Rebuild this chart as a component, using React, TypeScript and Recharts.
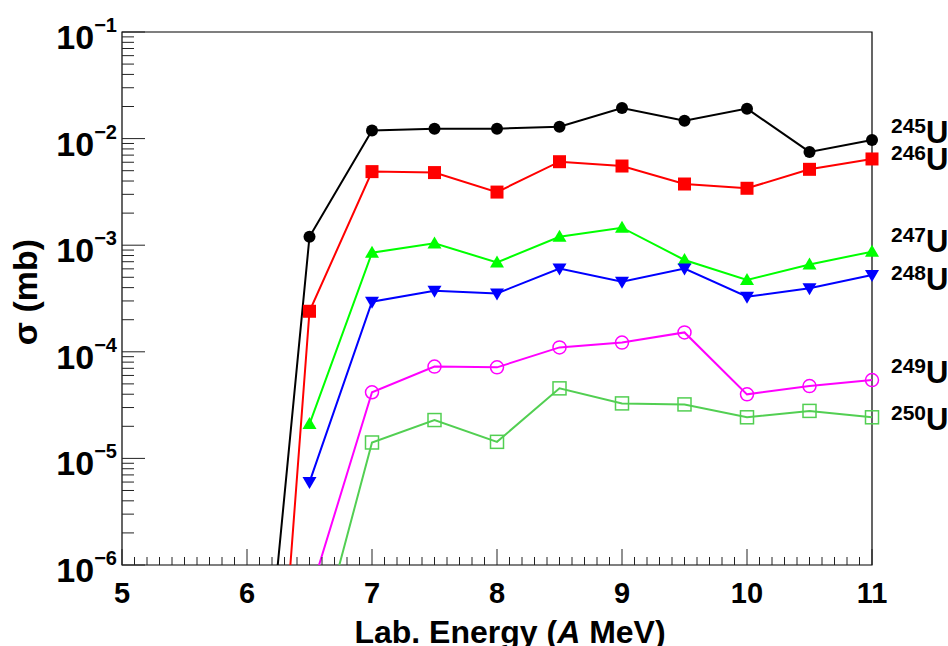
import React from "react";
import { LineChart, Line, XAxis, YAxis, ReferenceArea, Customized } from "recharts";

const energies = [6, 6.5, 7, 7.5, 8, 8.5, 9, 9.5, 10, 10.5, 11];
const u245 = [1.05e-9, 1.2e-3, 1.19e-2, 1.24e-2, 1.24e-2, 1.29e-2, 1.94e-2, 1.47e-2, 1.91e-2, 7.5e-3, 9.7e-3];
const u246 = [4e-12, 2.4e-4, 4.9e-3, 4.8e-3, 3.15e-3, 6.07e-3, 5.53e-3, 3.75e-3, 3.42e-3, 5.15e-3, 6.44e-3];
const u247 = [null, 2.1e-5, 8.5e-4, 1.04e-3, 6.9e-4, 1.2e-3, 1.46e-3, 7.27e-4, 4.72e-4, 6.6e-4, 8.7e-4];
const u248 = [null, 6.0e-6, 2.95e-4, 3.74e-4, 3.53e-4, 6.05e-4, 4.55e-4, 6.05e-4, 3.29e-4, 3.94e-4, 5.25e-4];
const u249 = [null, 5.1e-7, 4.17e-5, 7.26e-5, 7.15e-5, 1.1e-4, 1.22e-4, 1.52e-4, 3.99e-5, 4.77e-5, 5.43e-5];
const u250 = [null, 8.9e-8, 1.41e-5, 2.29e-5, 1.43e-5, 4.54e-5, 3.28e-5, 3.21e-5, 2.43e-5, 2.79e-5, 2.43e-5];

const yDecades = [1e-6, 1e-5, 1e-4, 1e-3, 1e-2, 1e-1];
const yExponents = ["−6", "−5", "−4", "−3", "−2", "−1"];

const seriesDefs = [
  { key: "u245", name: "245", values: u245, color: "#000000", shape: "circle" },
  { key: "u246", name: "246", values: u246, color: "#ff0000", shape: "square" },
  { key: "u247", name: "247", values: u247, color: "#00ff00", shape: "triUp" },
  { key: "u248", name: "248", values: u248, color: "#0000ff", shape: "triDown" },
  { key: "u249", name: "249", values: u249, color: "#ff00ff", shape: "openCircle" },
  { key: "u250", name: "250", values: u250, color: "#52cf52", shape: "openSquare" },
];

const YMIN = 1e-6;
const YMAX = 1e-1;

const data = energies.map((e, i) => {
  const row: any = { e };
  seriesDefs.forEach((s) => {
    const v = s.values[i];
    row[s.key] = v;
    row[s.key + "_m"] = v !== null && v >= YMIN ? v : null;
  });
  return row;
});

// tick positions (major + minor)
const xTicks: number[] = [];
for (let i = 0; i <= 60; i++) xTicks.push(Math.round((5 + i * 0.1) * 10) / 10);
const yTicks: number[] = [];
yDecades.forEach((d, i) => {
  if (i < yDecades.length - 1) {
    for (let k = 1; k <= 9; k++) yTicks.push(parseFloat((k * d).toPrecision(3)));
  } else yTicks.push(d);
});

const FONT = "'Liberation Sans', Arial, Helvetica, sans-serif";
const W = 948;
const H = 646;
const LEFT = 122;
const TOP = 32;
const PW = 750;
const PH = 533;
const BOTTOM = TOP + PH;

const XTick = (props: any) => {
  const { payload } = props;
  const x = payload.coordinate;
  const v = payload.value;
  const major = Math.abs(v - Math.round(v)) < 1e-6;
  return (
    <g>
      <line x1={x} x2={x} y1={BOTTOM} y2={BOTTOM - (major ? 16 : 8)} stroke="#222" strokeWidth={1} />
      {major && (
        <text x={x} y={BOTTOM + 38} textAnchor="middle" fontFamily={FONT} fontWeight="bold" fontSize={29} fill="#000">
          {Math.round(v)}
        </text>
      )}
    </g>
  );
};

const YTick = (props: any) => {
  const { payload } = props;
  const y = payload.coordinate;
  const v = payload.value;
  const lg = Math.log10(v);
  const major = Math.abs(lg - Math.round(lg)) < 1e-6;
  const idx = yDecades.findIndex((d) => Math.abs(Math.log10(d) - lg) < 1e-6);
  return (
    <g>
      <line x1={LEFT} x2={LEFT + (major ? 23 : 12)} y1={y} y2={y} stroke="#222" strokeWidth={1} />
      {major && idx >= 0 && (
        <text x={LEFT - 5} y={y + 17} textAnchor="end" fontFamily={FONT} fontWeight="bold" fontSize={34} fill="#000">
          <tspan>10</tspan>
          <tspan dy={-17} fontSize={20}>
            {yExponents[idx]}
          </tspan>
        </text>
      )}
    </g>
  );
};

const makeDot = (shape: string, color: string) => (p: any) => {
  const { cx, cy, index, value } = p;
  const k = `d-${shape}-${index}`;
  if (cx == null || cy == null || value == null) return <g key={k} />;
  switch (shape) {
    case "circle":
      return <circle key={k} cx={cx} cy={cy} r={6} fill={color} />;
    case "square":
      return <rect key={k} x={cx - 6.5} y={cy - 6.5} width={13} height={13} fill={color} />;
    case "triUp":
      return <polygon key={k} points={`${cx},${cy - 7} ${cx - 7},${cy + 5} ${cx + 7},${cy + 5}`} fill={color} />;
    case "triDown":
      return <polygon key={k} points={`${cx},${cy + 7} ${cx - 7},${cy - 5} ${cx + 7},${cy - 5}`} fill={color} />;
    case "openCircle":
      return <circle key={k} cx={cx} cy={cy} r={6.5} fill="none" stroke={color} strokeWidth={1.5} />;
    case "openSquare":
      return <rect key={k} x={cx - 6.5} y={cy - 6.5} width={13} height={13} fill="none" stroke={color} strokeWidth={1.5} />;
    default:
      return <g key={k} />;
  }
};

const labelPos = [
  { name: "245", y: 143 },
  { name: "246", y: 170 },
  { name: "247", y: 252 },
  { name: "248", y: 290 },
  { name: "249", y: 383 },
  { name: "250", y: 430 },
];

const Annotations = () => (
  <g>
    {labelPos.map((l) => (
      <text key={l.name} x={891} y={l.y} fontFamily={FONT} fontWeight="bold" fill="#000" fontSize={31}>
        <tspan fontSize={21} dy={-10}>
          {l.name}
        </tspan>
        <tspan dy={10}>U</tspan>
      </text>
    ))}
    <text
      x={37}
      y={292}
      transform="rotate(-90, 37, 292)"
      textAnchor="middle"
      fontFamily={FONT}
      fontWeight="bold"
      fontSize={34}
      fill="#000"
    >
      σ (mb)
    </text>
    <text x={510} y={643} textAnchor="middle" fontFamily={FONT} fontWeight="bold" fontSize={32} fill="#000">
      Lab. Energy (<tspan fontStyle="italic">A</tspan> MeV)
    </text>
  </g>
);

export default function App() {
  return (
    <div style={{ width: W, height: H, background: "#fff", overflow: "hidden" }}>
      <style>{`html, body { margin: 0; padding: 0; }`}</style>
      <LineChart width={W} height={H} data={data} margin={{ top: TOP, right: W - LEFT - PW, left: 0, bottom: 0 }}>
        <XAxis
          dataKey="e"
          type="number"
          domain={[5, 11]}
          ticks={xTicks}
          interval={0}
          height={H - BOTTOM}
          tick={<XTick />}
          tickLine={false}
          axisLine={false}
        />
        <YAxis
          yAxisId="l"
          scale="log"
          type="number"
          domain={[YMIN, YMAX]}
          allowDataOverflow
          ticks={yTicks}
          interval={0}
          width={LEFT}
          tick={<YTick />}
          tickLine={false}
          axisLine={false}
        />
        <YAxis yAxisId="m" scale="log" type="number" domain={[YMIN, YMAX]} hide />
        <ReferenceArea
          yAxisId="m"
          x1={5}
          x2={11}
          y1={YMIN}
          y2={YMAX}
          fill="none"
          stroke="#000"
          strokeWidth={1.2}
          ifOverflow="visible"
        />
        {seriesDefs.map((s) => (
          <Line
            key={s.key}
            yAxisId="l"
            dataKey={s.key}
            stroke={s.color}
            strokeWidth={2}
            dot={false}
            activeDot={false}
            isAnimationActive={false}
            connectNulls={false}
          />
        ))}
        {seriesDefs.map((s) => (
          <Line
            key={s.key + "_m"}
            yAxisId="m"
            dataKey={s.key + "_m"}
            stroke="none"
            dot={makeDot(s.shape, s.color)}
            activeDot={false}
            isAnimationActive={false}
          />
        ))}
        <Customized component={Annotations} />
      </LineChart>
    </div>
  );
}
